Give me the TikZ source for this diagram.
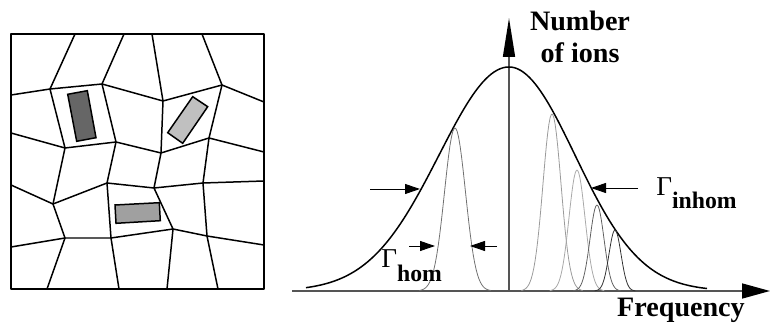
\documentclass[tikz,border=0pt]{standalone}
\usepackage{fontspec}
\setmainfont{Liberation Serif}
\usepackage{xcolor}
\usetikzlibrary{arrows.meta}
\definecolor{axisgray}{HTML}{555555}
\definecolor{graindark}{HTML}{666666}
\definecolor{grainlight}{HTML}{C0C0C0}
\definecolor{grainmid}{HTML}{A0A0A0}
\definecolor{peakA}{HTML}{707070}
\definecolor{peakB}{HTML}{9A9A9A}
\definecolor{peakC}{HTML}{A8A8A8}
\definecolor{peakD}{HTML}{606060}
\definecolor{peakE}{HTML}{303030}

\begin{document}
\begin{tikzpicture}[
  x=0.02cm, y=-0.02cm,
  declare function={gauss(\x,\c,\s)=exp(-0.5*((\x-\c)/\s)*((\x-\c)/\s));},
  cell/.style={black, line width=0.85pt, line join=round},
  grain/.style={draw=black, line width=0.85pt},
  envelope/.style={black, line width=0.85pt},
  peakline/.style={line width=0.45pt},
  axis/.style={axisgray, line width=0.9pt},
  marker/.style={-{Triangle[length=0.3cm, width=0.2cm]}, line width=0.55pt},
  lbl/.style={font=\fontsize{16}{18}\selectfont\bfseries, inner sep=0pt},
  gam/.style={font=\fontsize{15.5}{18}\selectfont, inner sep=0pt},
]
\useasboundingbox (0,0) rectangle (771,327);

% Left: crystal grains
\coordinate (a) at (50,89);
\coordinate (b) at (102,84);
\coordinate (c) at (163,101);
\coordinate (d) at (222,85);
\coordinate (e) at (65,148);
\coordinate (f) at (116,142);
\coordinate (g) at (161,153);
\coordinate (h) at (209,138);
\coordinate (i) at (53,204);
\coordinate (j) at (107,183);
\coordinate (k) at (154,188);
\coordinate (l) at (203,183);
\coordinate (m) at (65,238);
\coordinate (n) at (111,238);
\coordinate (o) at (173,229);
\coordinate (p) at (207,236);

\draw[cell] (11,95) -- (a) -- (b) -- (c) -- (d) -- (264,102);
\draw[cell] (11,133) -- (e) -- (f) -- (g) -- (h) -- (264,152);
\draw[cell] (11,185) -- (i) -- (j) -- (k) -- (l) -- (264,181);
\draw[cell] (11,247) -- (m) -- (n) -- (o) -- (p) -- (264,245);
\draw[cell] (75,34) -- (a) -- (e) -- (i) -- (m) -- (47,289);
\draw[cell] (124,34) -- (b) -- (f) -- (j) -- (n) -- (119,289);
\draw[cell] (152,34) -- (c) -- (g) -- (k) -- (o) -- (167,289);
\draw[cell] (202,34) -- (d) -- (h) -- (l) -- (p) -- (218,289);
\draw[cell] (11,34) rectangle (264,289);

\filldraw[grain, fill=graindark] (67.7,94.3) -- (87.3,90.7) -- (96,137.7) -- (76.7,141.3) -- cycle;
\filldraw[grain, fill=grainlight] (192.7,96.7) -- (207.7,106.7) -- (182.7,143.3) -- (167.7,132.7) -- cycle;
\filldraw[grain, fill=grainmid] (115,205) -- (159.3,202.7) -- (160.3,220.7) -- (116,223.3) -- cycle;

% Right: line shape
\coordinate (xstart) at (292,291);
\coordinate (xend) at (770,291);
\coordinate (ybase) at (509,291);
\coordinate (ytop) at (509,18);
\draw[axis, -{Triangle[length=0.56cm, width=0.3cm, color=black]}] (xstart) -- (xend);
\draw[axis, -{Triangle[length=0.78cm, width=0.24cm, color=black]}] (ybase) -- (ytop);

\draw[envelope] plot[domain=306:509, samples=70] (\x, {291-224*gauss(\x,509,70)})
  -- plot[domain=509:707, samples=70] (\x, {291-224*gauss(\x,509,66)});

\foreach \c/\h/\s/\col in {455/163/10.5/peakA, 552/177/9/peakB, 577/121/8/peakC, 597/86/7/peakD, 615/61/6/peakE} {
  \pgfmathsetmacro{\lo}{\c-3.4*\s}
  \pgfmathsetmacro{\hi}{\c+3.4*\s}
  \draw[peakline, \col] plot[domain=\lo:\hi, samples=50] (\x, {291-\h*gauss(\x,\c,\s)});
}

% width markers
\coordinate (halfs) at (370,189);
\coordinate (halfe) at (420,189);
\coordinate (homls) at (409,246);
\coordinate (homle) at (435,246);
\coordinate (homrs) at (497,246);
\coordinate (homre) at (470,246);
\coordinate (inhs) at (638,188);
\coordinate (inhe) at (591,188);
\draw[marker] (halfs) -- (halfe);
\draw[marker] (homls) -- (homle);
\draw[marker] (homrs) -- (homre);
\draw[marker] (inhs) -- (inhe);

\node[lbl, anchor=base] (ylab1) at (580,31) {Number};
\node[lbl, anchor=base] (ylab2) at (580,63) {of ions};
\node[lbl, anchor=base] (xlab) at (681,317) {Frequency};
\node[gam, anchor=base west] (ginhom) at (656,196) {Γ\raisebox{-0.26cm}{\fontsize{13.5}{16}\selectfont\bfseries inhom}};
\node[gam, anchor=base west] (ghom) at (381,268) {Γ\raisebox{-0.28cm}{\fontsize{13.5}{16}\selectfont\bfseries hom}};

\end{tikzpicture}
\end{document}
